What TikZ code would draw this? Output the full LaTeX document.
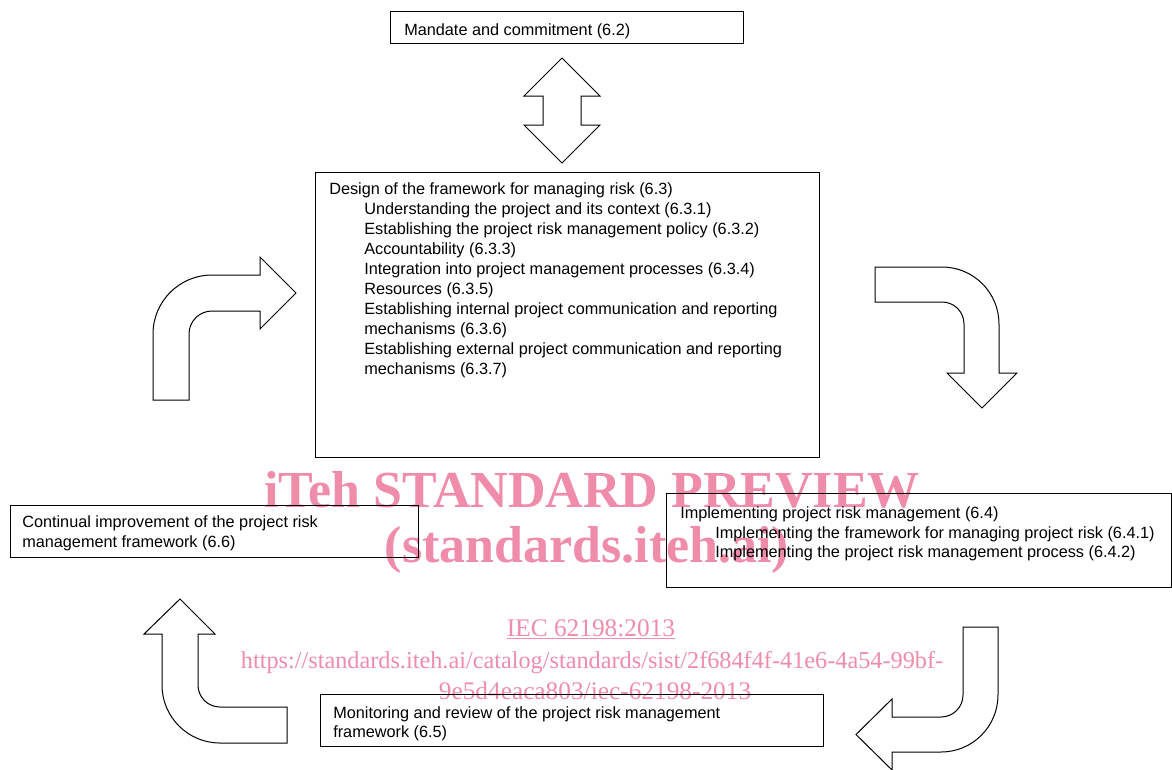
\documentclass[tikz,border=0pt]{standalone}
\usepackage{fontspec}
\setmainfont{Liberation Sans}
\newfontfamily\wmfont{Liberation Serif}
\usetikzlibrary{fit}
\definecolor{wm}{RGB}{238,140,170}
\begin{document}
\begin{tikzpicture}[x=0.75pt,y=-0.75pt,
  boxnode/.style={draw, line width=0.75pt, inner sep=0pt, fit=#1},
  txt/.style={anchor=base west, inner sep=0pt, font=\fontsize{12.2}{15}\selectfont},
  bigwm/.style={anchor=base, inner sep=0pt, text=wm, font=\wmfont\bfseries\fontsize{39}{42}\selectfont},
  smallwm/.style={anchor=base, inner sep=0pt, text=wm, font=\wmfont\fontsize{19}{22}\selectfont},
  shapearrow/.style={draw, fill=white, line width=0.75pt, line join=miter}]
\useasboundingbox (0,0) rectangle (1172,769);

% watermark
\node[bigwm] (wm1) at (592,507) {iTeh STANDARD PREVIEW};
\node[bigwm] (wm2) at (587,562) {(standards.iteh.ai)};
\node[smallwm] (wm3) at (591,636) {\underline{IEC 62198:2013}};
\node[smallwm, font=\wmfont\fontsize{18.2}{22}\selectfont] (wm4) at (592,668) {https://standards.iteh.ai/catalog/standards/sist/2f684f4f-41e6-4a54-99bf-};
\node[smallwm] (wm5) at (595,699) {9e5d4eaca803/iec-62198-2013};

% box corners
\coordinate (m1) at (390,11);  \coordinate (m2) at (743,43);
\coordinate (d1) at (315,172); \coordinate (d2) at (819,457);
\coordinate (c1) at (10,505);  \coordinate (c2) at (418,557);
\coordinate (i1) at (666,493); \coordinate (i2) at (1171,587);
\coordinate (r1) at (320,694); \coordinate (r2) at (823,746);

\node[boxnode={(m1)(m2)}] (mandate) {};
\node[boxnode={(d1)(d2)}] (design) {};
\node[boxnode={(c1)(c2)}] (continual) {};
\node[boxnode={(i1)(i2)}] (implement) {};
\node[boxnode={(r1)(r2)}] (monitor) {};

% texts
\node[txt] (mt) at (404,35) {Mandate and commitment (6.2)};

\node[txt] (dt0) at (329,194) {Design of the framework for managing risk (6.3)};
\node[txt] (dt1) at (364,214) {Understanding the project and its context (6.3.1)};
\node[txt] (dt2) at (364,234) {Establishing the project risk management policy (6.3.2)};
\node[txt] (dt3) at (364,254) {Accountability (6.3.3)};
\node[txt] (dt4) at (364,274) {Integration into project management processes (6.3.4)};
\node[txt] (dt5) at (364,294) {Resources (6.3.5)};
\node[txt] (dt6) at (364,314) {Establishing internal project communication and reporting};
\node[txt] (dt7) at (364,334) {mechanisms (6.3.6)};
\node[txt] (dt8) at (364,354) {Establishing external project communication and reporting};
\node[txt] (dt9) at (364,374) {mechanisms (6.3.7)};

\node[txt] (ct0) at (22,527) {Continual improvement of the project risk};
\node[txt] (ct1) at (22,547) {management framework (6.6)};

\node[txt] (it0) at (680,518) {Implementing project risk management (6.4)};
\node[txt] (it1) at (715,538) {Implementing the framework for managing project risk (6.4.1)};
\node[txt] (it2) at (715,557) {Implementing the project risk management process (6.4.2)};

\node[txt] (rt0) at (333,718) {Monitoring and review of the project risk management};
\node[txt] (rt1) at (333,737) {framework (6.5)};

% double arrow
\draw[shapearrow] (562,58) -- (600,96) -- (581,96) -- (581,125) -- (600,125) -- (562,163)
  -- (524,125) -- (543,125) -- (543,96) -- (524,96) -- cycle;

% arrow up-right (left side)
\draw[shapearrow] (153,400) -- (153,334) .. controls (153,301.4) and (179.4,275) .. (212,275)
  -- (260,275) -- (260,257) -- (296,293) -- (260,329) -- (260,311) -- (212,311)
  .. controls (199.3,311) and (189,321.3) .. (189,334) -- (189,400) -- cycle;

% arrow right-down (right side)
\draw[shapearrow] (875,267) -- (942,267) .. controls (973.5,267) and (999,292.5) .. (999,324)
  -- (999,373) -- (1017,373) -- (982,408) -- (947,373) -- (964,373) -- (964,324)
  .. controls (964,311.8) and (954.2,302) .. (942,302) -- (875,302) -- cycle;

% arrow left-up (bottom left)
\draw[shapearrow] (287,707) -- (220,707) .. controls (207.85,707) and (198,697.15) .. (198,685)
  -- (198,634) -- (215,634) -- (180,599) -- (144,634) -- (162,634) -- (162,685)
  .. controls (162,717) and (188,743) .. (220,743) -- (287,743) -- cycle;

% arrow down-left (bottom right)
\draw[shapearrow] (963,627) -- (998,627) -- (998,695) .. controls (998,726.5) and (972.5,752) .. (941,752)
  -- (892,752) -- (892,770) -- (856,734.5) -- (892,699) -- (892,717) -- (941,717)
  .. controls (953.15,717) and (963,707.15) .. (963,695) -- cycle;
\end{tikzpicture}
\end{document}
